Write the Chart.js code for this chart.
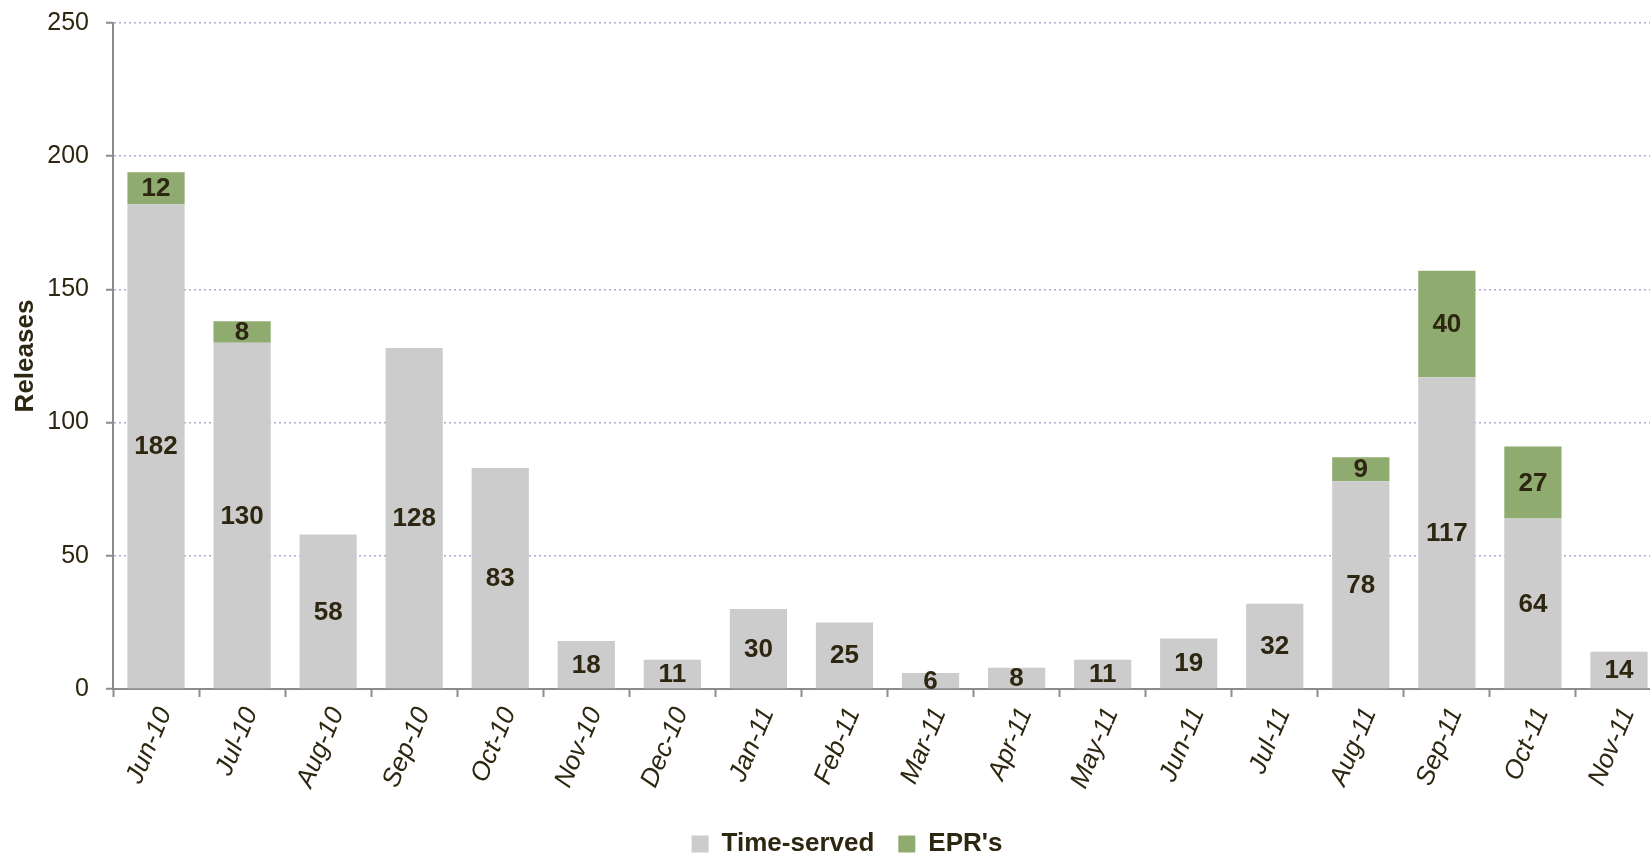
<!DOCTYPE html>
<html lang="en">

<head>
    <meta charset="UTF-8">
    <title>Releases</title>
    <script src="https://cdn.jsdelivr.net/npm/chart.js"></script>
    <style>
        html, body { margin: 0; padding: 0; background: #fff; overflow: hidden; }
        .grafico { position: relative; width: 1662px; height: 855px; }
    </style>
</head>

<body>
    <div class="grafico">
        <canvas id="myChart"></canvas>
    </div>

<script>
    // dados
    const meses = ['Jun-10', 'Jul-10', 'Aug-10', 'Sep-10', 'Oct-10', 'Nov-10', 'Dec-10', 'Jan-11', 'Feb-11',
        'Mar-11', 'Apr-11', 'May-11', 'Jun-11', 'Jul-11', 'Aug-11', 'Sep-11', 'Oct-11', 'Nov-11'];
    const timeServed = [182, 130, 58, 128, 83, 18, 11, 30, 25, 6, 8, 11, 19, 32, 78, 117, 64, 14];
    const eprs = [12, 8, 0, 0, 0, 0, 0, 0, 0, 0, 0, 0, 0, 0, 9, 40, 27, 0];
    const ticksY = [0, 50, 100, 150, 200, 250];

    const corTexto = '#2d2610';
    Chart.defaults.font.family = '"Liberation Sans", Arial, sans-serif';
    Chart.defaults.color = corTexto;

    // escreve o valor no meio de cada pedaço da barra
    const rotulos = {
        id: 'rotulos',
        afterDatasetsDraw(chart) {
            const ctx = chart.ctx;
            ctx.save();
            ctx.font = 'bold 26px "Liberation Sans", Arial, sans-serif';
            ctx.fillStyle = corTexto;
            ctx.textAlign = 'center';
            ctx.textBaseline = 'middle';
            chart.data.datasets.forEach(function (ds, i) {
                chart.getDatasetMeta(i).data.forEach(function (bar, j) {
                    const v = ds.data[j];
                    if (!v) return;
                    ctx.fillText(v, bar.x, (bar.y + bar.base) / 2 + 1);
                });
            });
            ctx.restore();
        }
    };

    const config = {
        type: 'bar',
        data: {
            labels: meses,
            datasets: [{
                label: 'Time-served',
                data: timeServed,
                backgroundColor: '#cccccc',
                categoryPercentage: 1,
                barPercentage: 0.665
            }, {
                label: "EPR's",
                data: eprs,
                backgroundColor: '#8fab6f',
                categoryPercentage: 1,
                barPercentage: 0.665
            }]
        },
        options: {
            responsive: true,
            maintainAspectRatio: false,
            animation: false,
            // o padding da esquerda empurra a legenda pro centro certo
            layout: { padding: { top: 23, left: 32, right: 0, bottom: -12 } },
            plugins: {
                tooltip: { enabled: false },
                legend: {
                    position: 'bottom',
                    labels: {
                        boxWidth: 17,
                        boxHeight: 17,
                        padding: 24,
                        color: corTexto,
                        font: { size: 26, weight: 'bold' }
                    }
                }
            },
            scales: {
                x: {
                    stacked: true,
                    grid: {
                        offset: true,
                        drawOnChartArea: false,
                        drawTicks: true,
                        tickLength: 8,
                        tickWidth: 2,
                        tickColor: '#8c8c8c'
                    },
                    border: { color: '#8c8c8c', width: 2 },
                    ticks: {
                        autoSkip: false,
                        minRotation: 67,
                        maxRotation: 67,
                        padding: 6,
                        labelOffset: 9,
                        color: corTexto,
                        font: { size: 26, style: 'italic' }
                    },
                    afterFit: function (scale) { scale.height = 118; }
                },
                y: {
                    stacked: true,
                    min: 0,
                    max: 250,
                    afterBuildTicks: function (scale) {
                        scale.ticks = ticksY.map(function (v) { return { value: v }; });
                    },
                    grid: {
                        color: '#b3a6d6',
                        lineWidth: 1.5,
                        tickLength: 7,
                        tickWidth: 2,
                        tickColor: '#8c8c8c'
                    },
                    border: { color: '#8c8c8c', width: 2, dash: [2, 3] },
                    ticks: {
                        padding: 17,
                        color: corTexto,
                        font: { size: 25 }
                    },
                    title: {
                        display: true,
                        text: 'Releases',
                        color: corTexto,
                        padding: { top: -22, bottom: 0 },
                        font: { size: 26, weight: 'bold' }
                    },
                    afterFit: function (scale) {
                        scale.width = 81;
                        scale.paddingTop = 0;
                        scale.paddingBottom = 0;
                    }
                }
            }
        },
        plugins: [rotulos]
    };

    let myChart = new Chart(document.getElementById('myChart'), config);
</script>
</body>

</html>
